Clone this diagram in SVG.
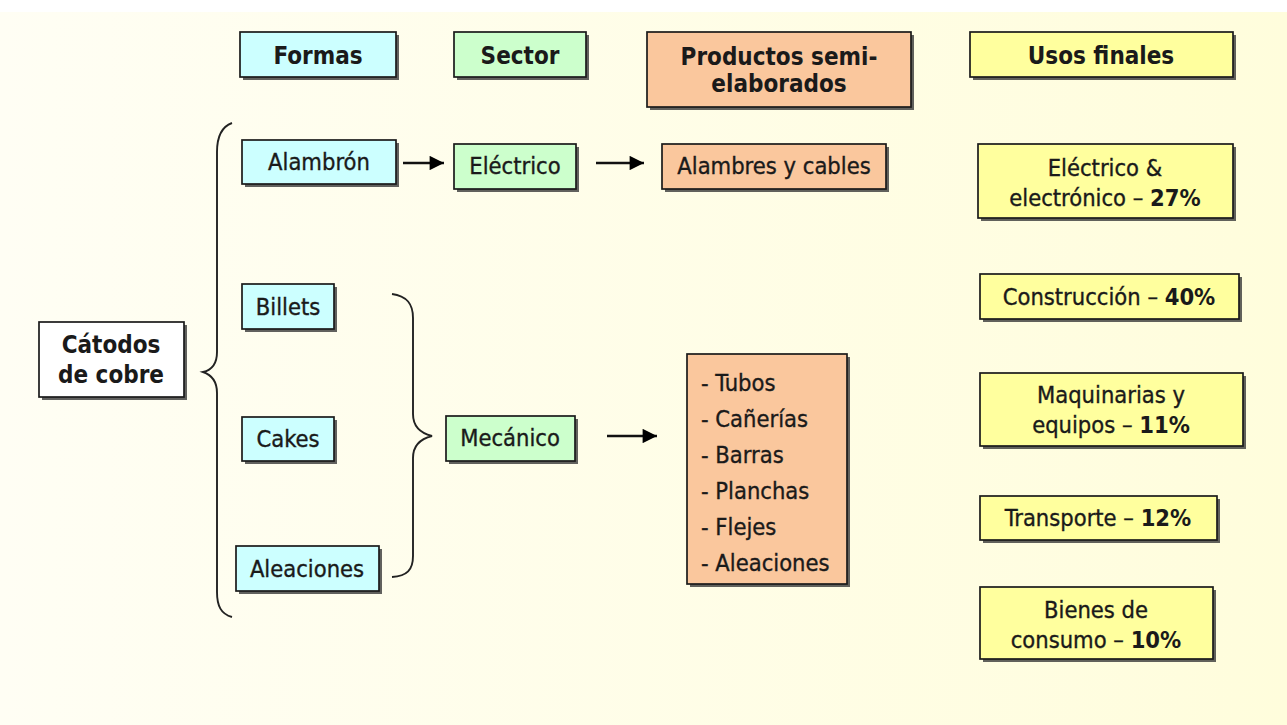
<svg xmlns="http://www.w3.org/2000/svg" width="1287" height="725" viewBox="0 0 1287 725">
<defs>
<linearGradient id="bg" x1="0" y1="0" x2="1" y2="0">
<stop offset="0" stop-color="#FFFEF4"/>
<stop offset="1" stop-color="#FFFDDC"/>
</linearGradient>
<marker id="ah" viewBox="0 0 10 10" refX="10" refY="5" markerWidth="6.5" markerHeight="6" orient="auto" markerUnits="strokeWidth">
<path d="M0,0 L10,5 L0,10 z" fill="#000"/>
</marker>
</defs>
<style>
.sh{fill:#3a3a3a;opacity:0.8}
.bx{stroke:#1a1a1a;stroke-width:1.7}
.cy{fill:#CCFFFF}
.gr{fill:#CCFFCC}
.or{fill:#FAC79D}
.ye{fill:#FFFF9E}
.wh{fill:#FFFFFF}
text{font-family:"DejaVu Sans Condensed","DejaVu Sans",sans-serif;font-stretch:condensed;fill:#1a1a1a;text-anchor:middle;dominant-baseline:central}
.t{font-size:23.5px;stroke:#1a1a1a;stroke-width:0.35}
.b{font-size:24px;font-weight:bold}
.l{text-anchor:start}
.ln{fill:none;stroke:#111;stroke-width:2.4}
.br{fill:none;stroke:#222;stroke-width:1.9}
</style>
<rect x="0" y="0" width="1287" height="725" fill="#FFFFFF"/>
<rect x="0" y="12" width="1287" height="713" fill="url(#bg)"/>

<g id="formas">
<rect class="sh" x="243" y="35" width="156" height="45"/>
<rect class="bx cy" x="240" y="32" width="156" height="45"/>
<text class="b" x="318" y="56">Formas</text>
</g>
<g id="sector">
<rect class="sh" x="457" y="35" width="132" height="45"/>
<rect class="bx gr" x="454" y="32" width="132" height="45"/>
<text class="b" x="520" y="56">Sector</text>
</g>
<g id="productos">
<rect class="sh" x="650" y="35" width="264" height="75"/>
<rect class="bx or" x="647" y="32" width="264" height="75"/>
<text class="b" x="779" y="57">Productos semi-</text>
<text class="b" x="779" y="84">elaborados</text>
</g>
<g id="usos">
<rect class="sh" x="973" y="35" width="263" height="45"/>
<rect class="bx ye" x="970" y="32" width="263" height="45"/>
<text class="b" x="1101" y="56">Usos finales</text>
</g>

<g id="catodos">
<rect class="sh" x="42" y="325" width="145" height="75"/>
<rect class="bx wh" x="39" y="322" width="145" height="75"/>
<text class="b" x="111" y="345">Cátodos</text>
<text class="b" x="111" y="375">de cobre</text>
</g>

<g id="alambron">
<rect class="sh" x="245" y="143" width="154" height="44"/>
<rect class="bx cy" x="242" y="140" width="154" height="44"/>
<text class="t" x="319" y="162">Alambrón</text>
</g>
<g id="billets">
<rect class="sh" x="245" y="287" width="92" height="45"/>
<rect class="bx cy" x="242" y="284" width="92" height="45"/>
<text class="t" x="288" y="307">Billets</text>
</g>
<g id="cakes">
<rect class="sh" x="245" y="420" width="92" height="44"/>
<rect class="bx cy" x="242" y="417" width="92" height="44"/>
<text class="t" x="288" y="439">Cakes</text>
</g>
<g id="aleaciones">
<rect class="sh" x="239" y="549" width="143" height="45"/>
<rect class="bx cy" x="236" y="546" width="143" height="45"/>
<text class="t" x="307" y="569">Aleaciones</text>
</g>

<g id="electrico">
<rect class="sh" x="457" y="147" width="122" height="45"/>
<rect class="bx gr" x="454" y="144" width="122" height="45"/>
<text class="t" x="515" y="166">Eléctrico</text>
</g>
<g id="mecanico">
<rect class="sh" x="449" y="419" width="129" height="45"/>
<rect class="bx gr" x="446" y="416" width="129" height="45"/>
<text class="t" x="510" y="438">Mecánico</text>
</g>

<g id="alambres">
<rect class="sh" x="665" y="147" width="224" height="45"/>
<rect class="bx or" x="662" y="144" width="224" height="45"/>
<text class="t" x="774" y="166">Alambres y cables</text>
</g>
<g id="lista">
<rect class="sh" x="690" y="357" width="160" height="230"/>
<rect class="bx or" x="687" y="354" width="160" height="230"/>
<text class="t l" x="701" y="383">- Tubos</text>
<text class="t l" x="701" y="419">- Cañerías</text>
<text class="t l" x="701" y="455">- Barras</text>
<text class="t l" x="701" y="491">- Planchas</text>
<text class="t l" x="701" y="527">- Flejes</text>
<text class="t l" x="701" y="563">- Aleaciones</text>
</g>

<g id="uso-electrico">
<rect class="sh" x="981" y="147" width="255" height="74"/>
<rect class="bx ye" x="978" y="144" width="255" height="74"/>
<text class="t" x="1105" y="168">Eléctrico &amp;</text>
<text class="t" x="1105" y="198">electrónico – <tspan font-weight="bold" stroke-width="0">27%</tspan></text>
</g>
<g id="uso-construccion">
<rect class="sh" x="983" y="277" width="259" height="45"/>
<rect class="bx ye" x="980" y="274" width="259" height="45"/>
<text class="t" x="1109" y="297">Construcción – <tspan font-weight="bold" stroke-width="0">40%</tspan></text>
</g>
<g id="uso-maquinarias">
<rect class="sh" x="983" y="376" width="263" height="73"/>
<rect class="bx ye" x="980" y="373" width="263" height="73"/>
<text class="t" x="1111" y="395">Maquinarias y</text>
<text class="t" x="1111" y="425">equipos – <tspan font-weight="bold" stroke-width="0">11%</tspan></text>
</g>
<g id="uso-transporte">
<rect class="sh" x="983" y="499" width="237" height="44"/>
<rect class="bx ye" x="980" y="496" width="237" height="44"/>
<text class="t" x="1098" y="518">Transporte – <tspan font-weight="bold" stroke-width="0">12%</tspan></text>
</g>
<g id="uso-bienes">
<rect class="sh" x="983" y="590" width="233" height="72"/>
<rect class="bx ye" x="980" y="587" width="233" height="72"/>
<text class="t" x="1096" y="610">Bienes de</text>
<text class="t" x="1096" y="640">consumo – <tspan font-weight="bold" stroke-width="0">10%</tspan></text>
</g>

<g id="connectors">
<line class="ln" x1="403" y1="163" x2="444" y2="163" marker-end="url(#ah)"/>
<line class="ln" x1="596" y1="163" x2="644" y2="163" marker-end="url(#ah)"/>
<line class="ln" x1="607" y1="436" x2="657" y2="436" marker-end="url(#ah)"/>
<path class="br" d="M232,123 C221,127 217,137 217,152 L217,352 C217,364 212,370 203,372 C212,375 217,381 217,393 L217,592 C217,606 221,614 232,617"/>
<path class="br" d="M392,294 C407,296 413,304 413,318 L413,414 C413,426 420,433 432,436 C420,439 413,446 413,458 L413,556 C413,570 407,576 392,577"/>
</g>
</svg>
